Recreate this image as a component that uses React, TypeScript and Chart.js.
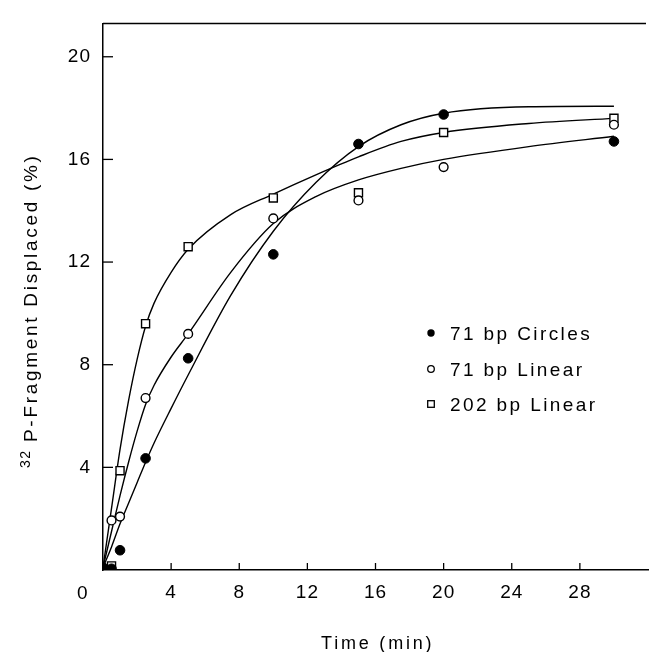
import React, { useEffect, useRef } from "react";
import { Chart, registerables } from "chart.js";

Chart.register(...registerables);

// ---- data ----
const TIMES_CIRCLES = [0, 0.5, 1, 2.5, 5, 10, 15, 20, 30];
const CIRCLES_71 = [0.1, 0.05, 0.77, 4.35, 8.25, 12.3, 16.6, 17.75, 16.7];
const TIMES_LINEAR = [0.5, 1, 2.5, 5, 10, 15, 20, 30];
const LINEAR_71 = [1.93, 2.08, 6.7, 9.2, 13.7, 14.4, 15.7, 17.35];
const LINEAR_202 = [0.16, 3.87, 9.6, 12.6, 14.5, 14.7, 17.05, 17.6];

// fitted curves
const FIT_TIMES = [0, 0.5, 1, 1.5, 2, 2.5, 3, 4, 5, 7.5, 10, 12.5, 15, 17.5, 20, 25, 30];
const FIT_CIRCLES = [0.1, 0.9, 1.8, 2.6, 3.4, 4.2, 4.95, 6.3, 7.6, 10.7, 13.2, 15.1, 16.5, 17.35, 17.8, 18.05, 18.07];
const FIT_LINEAR_71 = [0.1, 1.5, 2.9, 4.2, 5.4, 6.45, 7.2, 8.3, 9.2, 11.6, 13.5, 14.55, 15.2, 15.65, 16.0, 16.5, 16.9];
const FIT_LINEAR_202 = [0.1, 2.4, 4.7, 6.6, 8.2, 9.5, 10.4, 11.6, 12.5, 13.85, 14.65, 15.4, 16.1, 16.7, 17.05, 17.4, 17.6];

const LEGEND_LABELS = ["71 bp Circles", "71 bp Linear", "202 bp Linear"];
const X_TICK_STEP = 4;
const Y_TICK_STEP = 4;
const X_TITLE = "Time (min)";
const Y_TITLE_SUP = "32";
const Y_TITLE = "P-Fragment Displaced (%)";

const FONT = "'Liberation Sans', Arial, Helvetica, sans-serif";

const toXY = (xs: number[], ys: number[]) => xs.map((x, i) => ({ x, y: ys[i] }));

function drawText(
  ctx: CanvasRenderingContext2D,
  s: string,
  x: number,
  y: number,
  size: number,
  ls: number,
  align: CanvasTextAlign = "left"
) {
  ctx.save();
  ctx.font = `${size}px ${FONT}`;
  (ctx as any).letterSpacing = `${ls}px`;
  ctx.fillStyle = "#000";
  ctx.textAlign = align;
  ctx.textBaseline = "alphabetic";
  ctx.fillText(s, x, y);
  ctx.restore();
}

const decorPlugin = {
  id: "decor",
  beforeDraw(chart: any) {
    (chart.ctx as any).letterSpacing = "1px";
  },
  afterDraw(chart: any) {
    const ctx: CanvasRenderingContext2D = chart.ctx;
    const { left, right, top, bottom } = chart.chartArea;
    const xs = chart.scales.x;
    const ys = chart.scales.y;
    ctx.save();
    (ctx as any).letterSpacing = "0px";
    ctx.strokeStyle = "#000";
    ctx.lineWidth = 1.5;
    // top frame line
    ctx.beginPath();
    ctx.moveTo(left, top);
    ctx.lineTo(right - 2, top);
    ctx.stroke();
    // inward tick marks
    ctx.lineWidth = 1.3;
    ys.ticks.forEach((t: any) => {
      if (t.value <= 0) return;
      const py = ys.getPixelForValue(t.value);
      ctx.beginPath();
      ctx.moveTo(left, py);
      ctx.lineTo(left + 10, py);
      ctx.stroke();
    });
    xs.ticks.forEach((t: any) => {
      if (t.value <= 0 || t.value > 28) return;
      const px = xs.getPixelForValue(t.value);
      ctx.beginPath();
      ctx.moveTo(px, bottom);
      ctx.lineTo(px, bottom - 7);
      ctx.stroke();
    });
    ctx.restore();

    // origin label
    drawText(ctx, "0", left - 26, bottom + 29, 19, 0);

    // x title
    drawText(ctx, X_TITLE, 321, 649, 18, 2.8);

    // y title (rotated)
    ctx.save();
    ctx.translate(37, 0);
    ctx.rotate(-Math.PI / 2);
    drawText(ctx, Y_TITLE_SUP, -468, -7, 14, 1.5);
    drawText(ctx, Y_TITLE, -442, 0, 19, 2.7);
    ctx.restore();

    // legend
    const rows = [333, 369, 404];
    const mx = 431;
    ctx.save();
    ctx.strokeStyle = "#000";
    ctx.fillStyle = "#000";
    ctx.lineWidth = 1.3;
    ctx.beginPath();
    ctx.arc(mx, rows[0], 3.7, 0, Math.PI * 2);
    ctx.fill();
    ctx.beginPath();
    ctx.arc(mx, rows[1], 3.3, 0, Math.PI * 2);
    ctx.stroke();
    ctx.strokeRect(mx - 3.3, rows[2] - 3.3, 6.6, 6.6);
    ctx.restore();
    LEGEND_LABELS.forEach((lab, i) => drawText(ctx, lab, 450, rows[i] + 7, 19, 2.4));
  },
};

export default function App() {
  const ref = useRef<HTMLCanvasElement | null>(null);

  useEffect(() => {
    document.body.style.margin = "0";
    const canvas = ref.current;
    if (!canvas) return;
    const pointSet = (label: string, xs: number[], ys: number[], style: any, r: number, fill: string) => ({
      label,
      data: toXY(xs, ys),
      showLine: false,
      pointStyle: style,
      pointRadius: r,
      backgroundColor: fill,
      borderColor: "#000",
      borderWidth: fill === "#000" ? 1 : 1.4,
      order: 0,
    });
    const fitSet = (label: string, ys: number[]) => ({
      label,
      data: toXY(FIT_TIMES, ys),
      showLine: true,
      pointRadius: 0,
      borderColor: "#000",
      borderWidth: 1.4,
      cubicInterpolationMode: "monotone",
      order: 1,
    });
    const chart = new Chart(canvas, {
      type: "scatter",
      data: {
        datasets: [
          pointSet(LEGEND_LABELS[0], TIMES_CIRCLES, CIRCLES_71, "circle", 4.8, "#000"),
          pointSet(LEGEND_LABELS[1], TIMES_LINEAR, LINEAR_71, "circle", 4.4, "#fff"),
          pointSet(LEGEND_LABELS[2], TIMES_LINEAR, LINEAR_202, "rect", 5.7, "#fff"),
          fitSet("fit circles", FIT_CIRCLES),
          fitSet("fit 71 linear", FIT_LINEAR_71),
          fitSet("fit 202 linear", FIT_LINEAR_202),
        ] as any,
      },
      options: {
        animation: false,
        responsive: true,
        maintainAspectRatio: false,
        layout: { padding: { top: 13, right: 0, left: 0, bottom: 0 } },
        plugins: { legend: { display: false }, tooltip: { enabled: false } },
        scales: {
          x: {
            type: "linear",
            min: 0,
            max: 32,
            grid: { display: false, drawTicks: false },
            border: { display: true, color: "#000", width: 1.5 },
            ticks: {
              stepSize: X_TICK_STEP,
              includeBounds: false,
              autoSkip: false,
              maxRotation: 0,
              padding: 11,
              color: "#000",
              font: { family: FONT, size: 19 },
              callback: (v: any) => (v === 0 || v > 28 ? "" : String(v)),
            },
            afterFit: (s: any) => {
              s.height = 82;
            },
          },
          y: {
            type: "linear",
            min: 0,
            max: 21.3,
            grid: { display: false, drawTicks: false },
            border: { display: true, color: "#000", width: 1.5 },
            ticks: {
              stepSize: Y_TICK_STEP,
              includeBounds: false,
              padding: 12,
              color: "#000",
              font: { family: FONT, size: 19 },
              callback: (v: any) => (v === 0 ? "" : String(v)),
            },
            afterFit: (s: any) => {
              s.width = 103;
            },
          },
        },
      },
      plugins: [decorPlugin],
    });
    return () => chart.destroy();
  }, []);

  return (
    <div style={{ width: 659, height: 652, position: "relative" }}>
      <canvas ref={ref} />
    </div>
  );
}
